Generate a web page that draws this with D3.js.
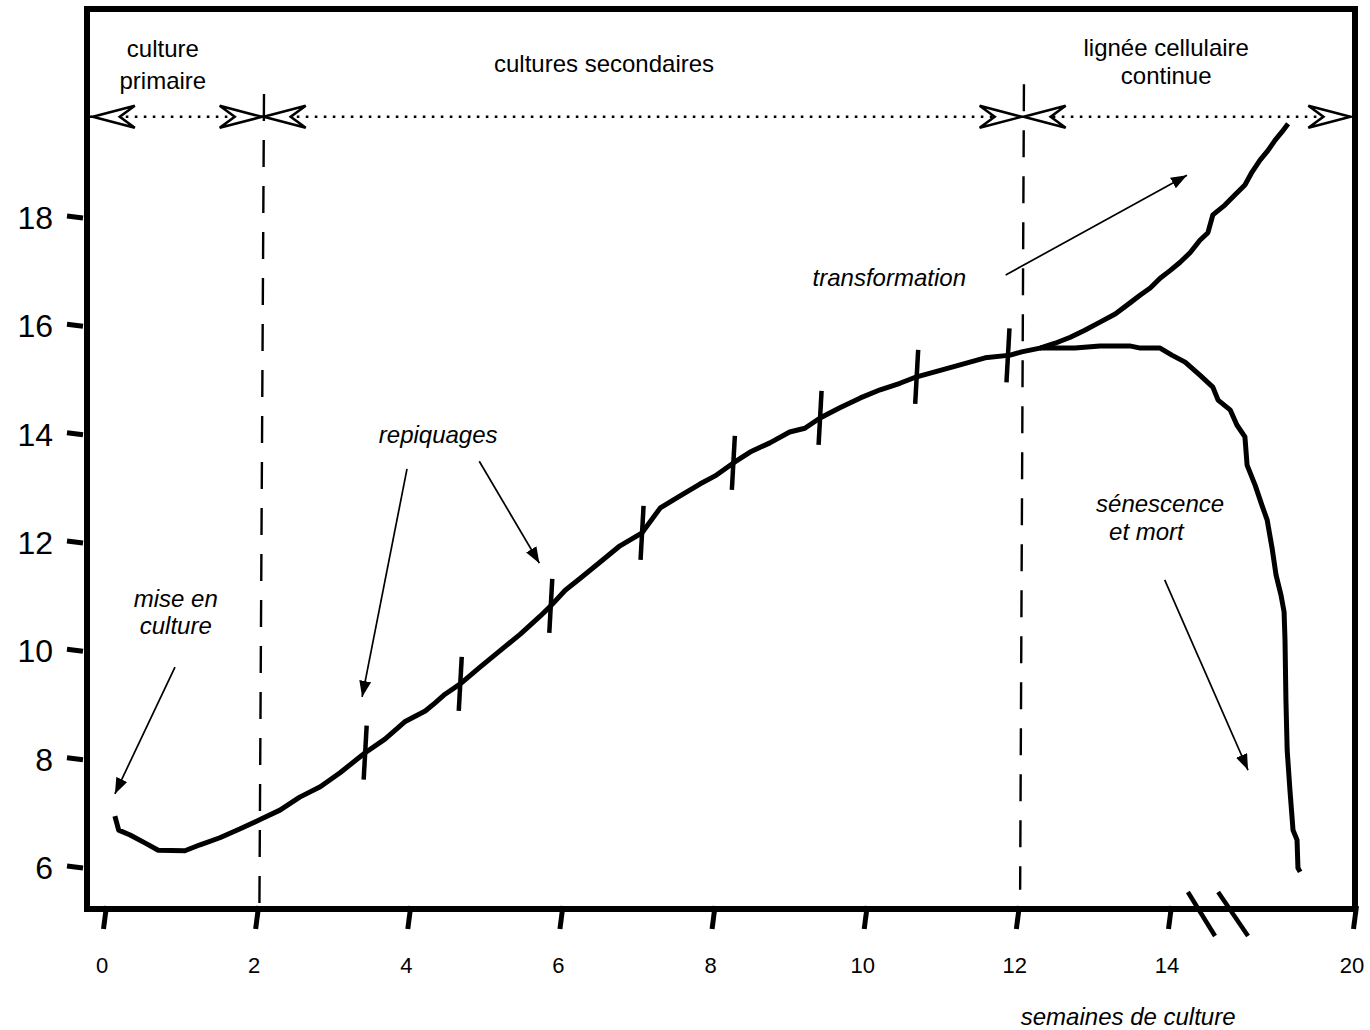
<!DOCTYPE html>
<html><head><meta charset="utf-8">
<script src="https://cdn.jsdelivr.net/npm/d3@7"></script>
<style>body{margin:0;background:#fff}</style>
</head><body>
<svg id="c" width="1370" height="1030"></svg>
<script>
// ---------- DATA ----------
const xTickValues = [0, 2, 4, 6, 8, 10, 12, 14, 20];
const yTickValues = [6, 8, 10, 12, 14, 16, 18];

// main growth curve (weeks, value)
const mainX = [0.13,0.18,0.33,0.53,0.70,1.05,1.25,1.51,1.77,2.06,2.30,2.56,2.83,3.09,3.42,3.68,3.94,4.21,4.34,4.47,4.67,4.93,5.19,5.46,5.72,5.86,6.05,6.24,6.51,6.77,7.06,7.30,7.56,7.82,8.02,8.26,8.48,8.74,9.00,9.20,9.40,9.66,9.93,10.19,10.45,10.67,10.98,11.24,11.57,11.90,12.05,12.29];
const mainY = [6.94,6.68,6.59,6.44,6.31,6.30,6.41,6.54,6.70,6.89,7.05,7.29,7.48,7.74,8.11,8.36,8.68,8.88,9.03,9.19,9.38,9.69,9.99,10.30,10.63,10.82,11.11,11.32,11.63,11.93,12.17,12.63,12.85,13.07,13.22,13.46,13.66,13.83,14.03,14.10,14.29,14.48,14.66,14.81,14.93,15.05,15.17,15.27,15.40,15.45,15.51,15.58];

// transformation branch
const upperX = [12.49,12.69,12.88,13.08,13.28,13.47,13.61,13.74,13.87,14.00,14.32,14.65,14.97,15.23,15.39,15.78,16.11,16.43,16.66,16.92,17.18,17.41,17.63,17.83];
const upperY = [15.67,15.78,15.91,16.06,16.21,16.41,16.56,16.69,16.87,17.01,17.16,17.34,17.57,17.71,18.04,18.22,18.41,18.59,18.83,19.05,19.23,19.42,19.57,19.72];

// senescence branch
const lowerX = [12.75,13.08,13.47,13.61,13.87,14.06,14.49,14.97,15.39,15.56,15.95,16.17,16.43,16.50,16.76,16.98,17.15,17.31,17.44,17.60,17.70,17.73,17.76,17.80,17.89,17.99,18.12,18.15,18.22];
const lowerY = [15.58,15.62,15.62,15.58,15.58,15.45,15.32,15.08,14.86,14.62,14.44,14.16,13.94,13.42,13.05,12.68,12.41,11.89,11.39,11.02,10.71,10.19,9.08,8.16,7.42,6.68,6.50,5.98,5.91];

// passages (repiquages)
const passageX = [3.42, 4.67, 5.86, 7.06, 8.26, 9.40, 10.67, 11.87];

// phase boundaries
const phaseBounds = [-0.2, 2.06, 12.05, 19.85];
const phaseLabels = [["culture","primaire"],["cultures secondaires"],["lignée cellulaire","continue"]];

// ---------- LAYOUT ----------
const W = 1370, H = 1030;
const frame = {l: 87, t: 9, r: 1355, b: 909};
const x = d3.scaleLinear().domain([0, 14, 20]).range([105, 1170, 1355]);
const y = d3.scaleLinear().domain([6, 18]).range([867, 217]);
const FONT = "'Liberation Sans', Arial, Helvetica, sans-serif";

const svg = d3.select("#c");
svg.append("rect").attr("width", W).attr("height", H).attr("fill", "#fff");

const defs = svg.append("defs");
defs.append("marker").attr("id","tri").attr("viewBox","0 0 16 12")
  .attr("refX",16).attr("refY",6).attr("markerWidth",16).attr("markerHeight",12)
  .attr("markerUnits","userSpaceOnUse").attr("orient","auto")
  .append("path").attr("d","M0,0 L16,6 L0,12 Z").attr("fill","#000");

// dashed phase separators
const sepLines = [
  {x1: 2.09, x2: 2.03, y1: 20.27, y2: 5.32},
  {x1: 12.08, x2: 12.03, y1: 20.45, y2: 5.58}
];
svg.selectAll(".sep").data(sepLines).join("line")
  .attr("x1", d=>x(d.x1)).attr("x2", d=>x(d.x2))
  .attr("y1", d=>y(d.y1)).attr("y2", d=>y(d.y2))
  .attr("stroke","#000").attr("stroke-width",2.4).attr("stroke-dasharray","27,19");

// dotted phase arrow line
const arrowY = 19.85;
svg.append("line").attr("x1", x(phaseBounds[0])).attr("x2", x(phaseBounds[3]))
  .attr("y1", y(arrowY)).attr("y2", y(arrowY))
  .attr("stroke","#000").attr("stroke-width",2.6).attr("stroke-dasharray","2.6,6.4");

function chevron(tx, ty, dir) { // dir = -1 points left, +1 points right
  const L = 42, Wd = 11, N = 27;
  return `M${tx},${ty} L${tx - dir*L},${ty - Wd} L${tx - dir*N},${ty} L${tx - dir*L},${ty + Wd} Z`;
}
const chevrons = [];
for (let i = 0; i < 3; i++) {
  chevrons.push({v: phaseBounds[i] , dir: -1, off: i === 0 ? 3 : 2});
  chevrons.push({v: phaseBounds[i+1], dir: 1, off: -1});
}
svg.selectAll(".chev").data(chevrons).join("path")
  .attr("d", d => chevron(x(d.v) + (d.dir < 0 ? d.off : 0), y(arrowY), d.dir))
  .attr("fill","#fff").attr("stroke","#000").attr("stroke-width",2.6).attr("stroke-linejoin","miter");

// phase labels
const phaseLabelPos = [
  {x: 0.76, y: [20.95, 20.36]},
  {x: 6.56, y: [20.68]},
  {x: 13.95, y: [20.97, 20.45]}
];
phaseLabels.forEach((lines, i) => {
  lines.forEach((t, j) => {
    svg.append("text").attr("x", x(phaseLabelPos[i].x)).attr("y", y(phaseLabelPos[i].y[j]))
      .attr("text-anchor","middle").attr("font-family",FONT).attr("font-size",24).text(t);
  });
});

// curves
const line = d3.line().x(d => x(d[0])).y(d => y(d[1]));
const mainPts = mainX.map((v,i) => [v, mainY[i]]);
const upPts = mainPts.concat(upperX.map((v,i) => [v, upperY[i]]));
const lowPts = [mainPts[mainPts.length-1]].concat(lowerX.map((v,i) => [v, lowerY[i]]));
[upPts, lowPts].forEach(p => {
  svg.append("path").attr("d", line(p)).attr("fill","none").attr("stroke","#000")
    .attr("stroke-width",5).attr("stroke-linejoin","round").attr("stroke-linecap","butt");
});

// passage ticks
function interpMain(v) {
  for (let i = 1; i < mainX.length; i++) {
    if (v <= mainX[i]) {
      const t = (v - mainX[i-1]) / (mainX[i] - mainX[i-1]);
      return mainY[i-1] + t * (mainY[i] - mainY[i-1]);
    }
  }
  return mainY[mainY.length-1];
}
svg.selectAll(".pass").data(passageX).join("line")
  .attr("x1", d => x(d) + 1.5).attr("x2", d => x(d) - 1.5)
  .attr("y1", d => y(interpMain(d)) - 27).attr("y2", d => y(interpMain(d)) + 27)
  .attr("stroke","#000").attr("stroke-width",4.5);

// frame
svg.append("rect").attr("x", frame.l).attr("y", frame.t)
  .attr("width", frame.r - frame.l).attr("height", frame.b - frame.t)
  .attr("fill","none").attr("stroke","#000").attr("stroke-width",6);

// x axis ticks + labels
svg.selectAll(".xt").data(xTickValues).join("line")
  .attr("x1", d => x(d) + 1.5).attr("x2", d => x(d) - 1.5)
  .attr("y1", frame.b - 3).attr("y2", frame.b + 20)
  .attr("stroke","#000").attr("stroke-width",5);
svg.selectAll(".xl").data(xTickValues).join("text")
  .attr("x", d => x(d) - 3).attr("y", 973)
  .attr("text-anchor","middle").attr("font-family",FONT).attr("font-size",22).text(d => d);

// axis break marks
const breaks = [{x1: 14.58, x2: 15.46}, {x1: 15.56, x2: 16.53}];
svg.selectAll(".brk").data(breaks).join("line")
  .attr("x1", d => x(d.x1)).attr("x2", d => x(d.x2))
  .attr("y1", frame.b - 17).attr("y2", frame.b + 27)
  .attr("stroke","#000").attr("stroke-width",4.5);

// y axis ticks + labels
svg.selectAll(".yt").data(yTickValues).join("line")
  .attr("x1", frame.l - 20).attr("x2", frame.l - 4)
  .attr("y1", d => y(d) - 1).attr("y2", d => y(d) + 1)
  .attr("stroke","#000").attr("stroke-width",5);
svg.selectAll(".yl").data(yTickValues).join("text")
  .attr("x", 53).attr("y", d => y(d) + 12)
  .attr("text-anchor","end").attr("font-family",FONT).attr("font-size",32).text(d => d);

// annotation arrows
const arrows = [
  {x1: 0.92, y1: 9.69, x2: 0.13, y2: 7.35},
  {x1: 3.97, y1: 13.35, x2: 3.38, y2: 9.14},
  {x1: 4.92, y1: 13.49, x2: 5.71, y2: 11.61},
  {x1: 11.84, y1: 16.93, x2: 14.55, y2: 18.77},
  {x1: 13.93, y1: 11.30, x2: 16.53, y2: 7.79}
];
svg.selectAll(".arr").data(arrows).join("line")
  .attr("x1", d => x(d.x1)).attr("y1", d => y(d.y1))
  .attr("x2", d => x(d.x2)).attr("y2", d => y(d.y2))
  .attr("stroke","#000").attr("stroke-width",1.7).attr("marker-end","url(#tri)");

// annotation labels (italic)
const notes = [
  {t: "mise en", x: 0.93, y: 10.80},
  {t: "culture", x: 0.93, y: 10.30},
  {t: "repiquages", x: 4.38, y: 13.83},
  {t: "transformation", x: 10.31, y: 16.73},
  {t: "sénescence", x: 13.87, y: 12.55},
  {t: "et mort", x: 13.69, y: 12.04},
  {t: "semaines de culture", x: 13.45, y: 3.08}
];
svg.selectAll(".note").data(notes).join("text")
  .attr("x", d => x(d.x)).attr("y", d => y(d.y))
  .attr("text-anchor","middle").attr("font-family",FONT).attr("font-size",24)
  .attr("font-style","italic").text(d => d.t);
</script>
</body></html>
